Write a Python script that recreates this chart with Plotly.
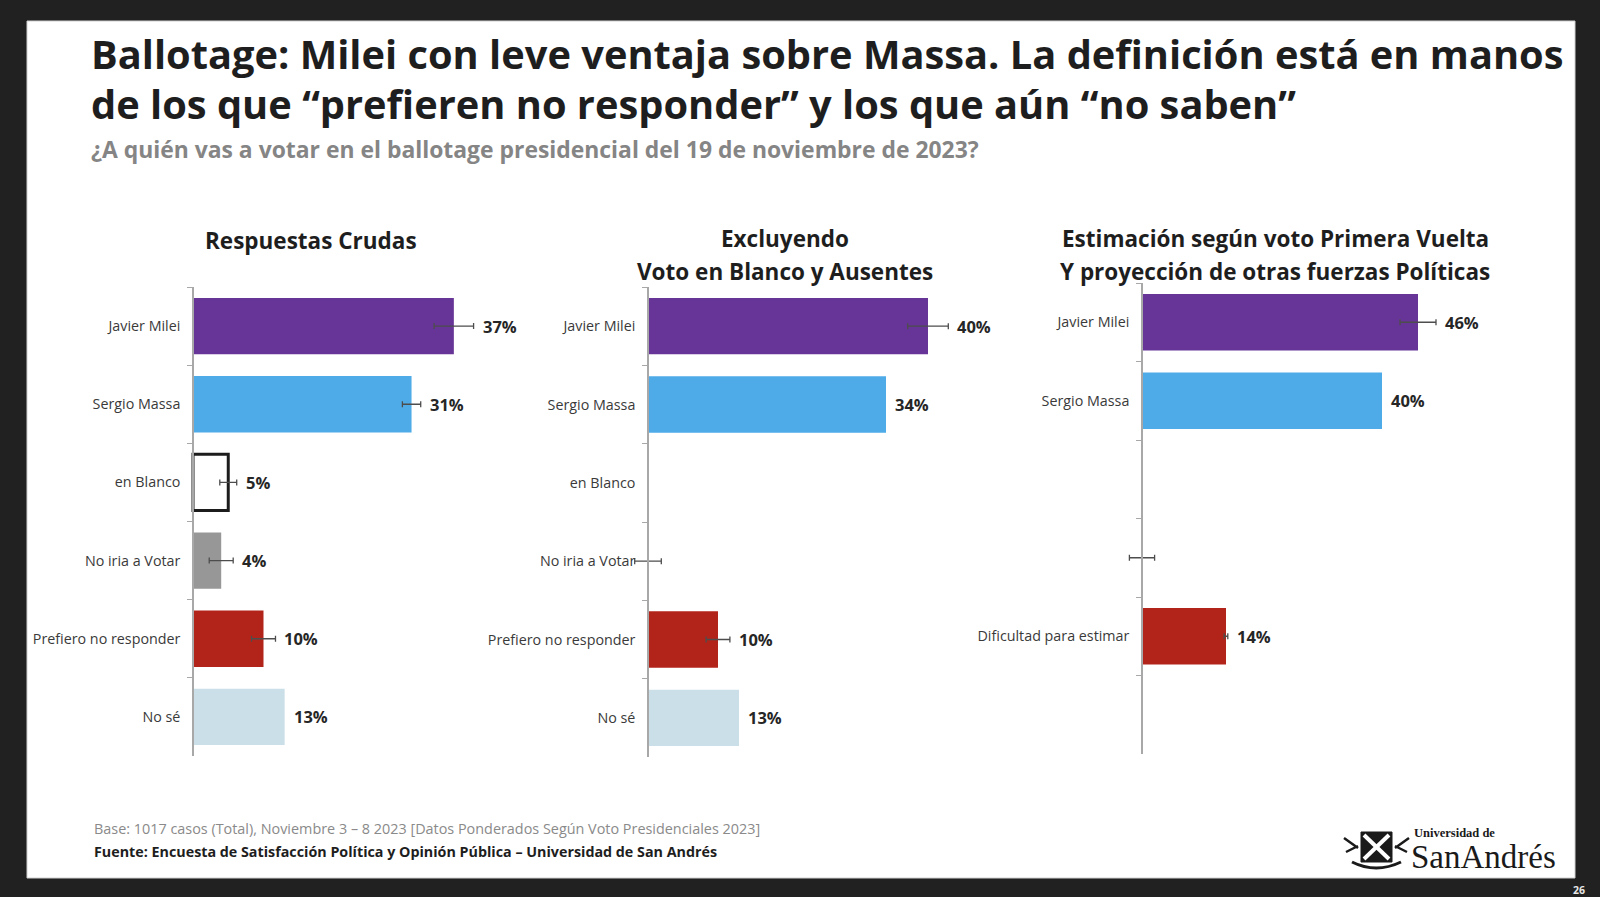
import plotly.graph_objects as go

W, H = 1600, 897

# ---- data ----
cats_raw = ["Javier Milei", "Sergio Massa", "en Blanco", "No iria a Votar", "Prefiero no responder", "No sé"]
vals_raw = [37, 31, 5, 4, 10, 13]
err_raw = [2.8, 1.3, 1.2, 1.7, 1.7, None]
lbl_raw = ["37%", "31%", "5%", "4%", "10%", "13%"]

cats_excl = ["Javier Milei", "Sergio Massa", "en Blanco", "No iria a Votar", "Prefiero no responder", "No sé"]
vals_excl = [40, 34, None, 0, 10, 13]
err_excl = [2.9, None, None, 1.9, 1.7, None]
lbl_excl = ["40%", "34%", "", "", "10%", "13%"]

cats_est = ["Javier Milei", "Sergio Massa", " ", "  ", "Dificultad para estimar", "   "]
vals_est = [46, 40, None, 0, 14, None]
err_est = [3.0, None, None, 2.1, 0.3, None]
lbl_est = ["46%", "40%", "", "", "14%", ""]

colors = ["#673597", "#4eabe8", "#ffffff", "#979797", "#b2241a", "#cbdfe8"]
line_w = [0, 0, 3, 0, 0, 0]

FONT = "Open Sans"


def fx(px):
    return px / W


def fy(py):
    return 1 - py / H


# panel geometry in pixels: zero line x, px per %, top, bottom, right end
panels = [
    dict(cats=cats_raw, vals=vals_raw, err=err_raw, lbl=lbl_raw, zero=193, scale=7.05, top=287, bottom=756, right=540),
    dict(cats=cats_excl, vals=vals_excl, err=err_excl, lbl=lbl_excl, zero=648, scale=7.0, top=287, bottom=757, right=990),
    dict(cats=cats_est, vals=vals_est, err=err_est, lbl=lbl_est, zero=1142, scale=6.0, top=283, bottom=754, right=1500),
]

fig = go.Figure()
annotations = []
r0 = -3

for i, p in enumerate(panels, start=1):
    sx = "" if i == 1 else str(i)
    d0 = p["zero"] + r0 * p["scale"]
    r1 = (p["right"] - p["zero"]) / p["scale"]
    fig.add_trace(go.Bar(
        x=p["vals"], y=p["cats"], orientation="h",
        marker=dict(color=colors, line=dict(color="#1c1c1c", width=line_w)),
        xaxis="x" + sx, yaxis="y" + sx, showlegend=False, hoverinfo="skip",
    ))
    # error bars only where the reference shows them
    ex = [(c, v, e) for c, v, e in zip(p["cats"], p["vals"], p["err"]) if e is not None]
    fig.add_trace(go.Scatter(
        x=[v for _, v, _ in ex], y=[c for c, _, _ in ex], mode="markers",
        marker=dict(size=1, opacity=0),
        error_x=dict(type="data", array=[e for _, _, e in ex], symmetric=True,
                     color="#4d4d4d", thickness=1.3, width=3),
        xaxis="x" + sx, yaxis="y" + sx, showlegend=False, hoverinfo="skip",
    ))
    fig.layout["xaxis" + sx] = dict(domain=[fx(d0), fx(p["right"])], range=[r0, r1], visible=False,
                                    anchor="y" + sx, fixedrange=True)
    fig.layout["yaxis" + sx] = dict(
        domain=[fy(p["bottom"]), fy(p["top"])], type="category",
        categoryorder="array", categoryarray=p["cats"], autorange="reversed",
        anchor="free", position=fx(p["zero"]),
        showline=True, linecolor="#a8a8a8", linewidth=1.5,
        ticks="outside", tickson="boundaries", ticklen=5, tickcolor="#a8a8a8", tickwidth=1.2,
        ticklabelstandoff=9, showgrid=False, zeroline=False,
        tickfont=dict(family=FONT, size=14.3, color="#3a3a3a"), fixedrange=True,
    )
    for c, v, e, t in zip(p["cats"], p["vals"], p["err"], p["lbl"]):
        if not t:
            continue
        annotations.append(dict(
            x=v + (e or 0), y=c, xref="x" + sx, yref="y" + sx, text="<b>" + t + "</b>",
            xanchor="left", yanchor="middle", xshift=7, showarrow=False,
            font=dict(family=FONT, size=16.5, color="#262626"),
        ))


def txt(x, y, text, size, color, xanchor="left", family=FONT):
    annotations.append(dict(
        x=fx(x), y=fy(y), xref="paper", yref="paper", text=text, showarrow=False,
        xanchor=xanchor, yanchor="middle", font=dict(family=family, size=size, color=color),
    ))


# titles
txt(89, 54, "<b>Ballotage: Milei con leve ventaja sobre Massa. La definición está en manos</b>", 39.8, "#1e1e1e")
txt(89, 104, "<b>de los que “prefieren no responder” y los que aún “no saben”</b>", 39.8, "#1e1e1e")
txt(89, 149, "<b>¿A quién vas a votar en el ballotage presidencial del 19 de noviembre de 2023?</b>", 22.9, "#858585")

# panel titles
txt(311, 240, "<b>Respuestas Crudas</b>", 22.5, "#1e1e1e", "center")
txt(785, 239, "<b>Excluyendo</b>", 22.5, "#1e1e1e", "center")
txt(785, 271, "<b>Voto en Blanco y Ausentes</b>", 22.5, "#1e1e1e", "center")
txt(1275, 239, "<b>Estimación según voto Primera Vuelta</b>", 22.5, "#1e1e1e", "center")
txt(1275, 271, "<b>Y proyección de otras fuerzas Políticas</b>", 22.5, "#1e1e1e", "center")

# footer
txt(92, 828, "Base: 1017 casos (Total), Noviembre 3 – 8 2023 [Datos Ponderados Según Voto Presidenciales 2023]", 14.4, "#8a8a8a")
txt(92, 851, "<b>Fuente: Encuesta de Satisfacción Política y Opinión Pública – Universidad de San Andrés</b>", 14.3, "#1e1e1e")

# logo text
txt(1412, 833, "<b>Universidad de</b>", 12.5, "#1a1a1a", family="Liberation Serif")
txt(1409, 857, "SanAndrés", 33, "#1a1a1a", family="Liberation Serif")
txt(1587, 890, "<b>26</b>", 10.5, "#e6e6e6", "right")

shapes = [
    dict(type="rect", xref="paper", yref="paper", x0=fx(27), x1=fx(1575), y0=fy(878), y1=fy(21),
         fillcolor="#ffffff", line=dict(color="#d0d0d0", width=1), layer="below"),
    # crest
    dict(type="rect", xref="paper", yref="paper", x0=fx(1361), x1=fx(1392), y0=fy(862), y1=fy(832),
         fillcolor="#1a1a1a", line=dict(color="#1a1a1a", width=1)),
    dict(type="line", xref="paper", yref="paper", x0=fx(1364), x1=fx(1389), y0=fy(835), y1=fy(859),
         line=dict(color="#ffffff", width=4)),
    dict(type="line", xref="paper", yref="paper", x0=fx(1389), x1=fx(1364), y0=fy(835), y1=fy(859),
         line=dict(color="#ffffff", width=4)),
    dict(type="path", xref="paper", yref="paper",
         path=f"M {fx(1352)},{fy(862)} Q {fx(1376)},{fy(874)} {fx(1401)},{fy(862)}",
         line=dict(color="#1a1a1a", width=3)),
    dict(type="path", xref="paper", yref="paper",
         path=f"M {fx(1344)},{fy(838)} L {fx(1358)},{fy(848)} M {fx(1346)},{fy(852)} L {fx(1358)},{fy(846)}",
         line=dict(color="#1a1a1a", width=2.5)),
    dict(type="path", xref="paper", yref="paper",
         path=f"M {fx(1409)},{fy(838)} L {fx(1395)},{fy(848)} M {fx(1407)},{fy(852)} L {fx(1395)},{fy(846)}",
         line=dict(color="#1a1a1a", width=2.5)),
]

fig.update_layout(
    width=W, height=H, margin=dict(l=0, r=0, t=0, b=0),
    paper_bgcolor="#212121", plot_bgcolor="rgba(0,0,0,0)",
    bargap=0.28, annotations=annotations, shapes=shapes,
    font=dict(family=FONT),
)

fig.write_html("out.html", config={"displayModeBar": False},
               post_script="document.body.style.margin='0';document.body.style.overflow='hidden';")
